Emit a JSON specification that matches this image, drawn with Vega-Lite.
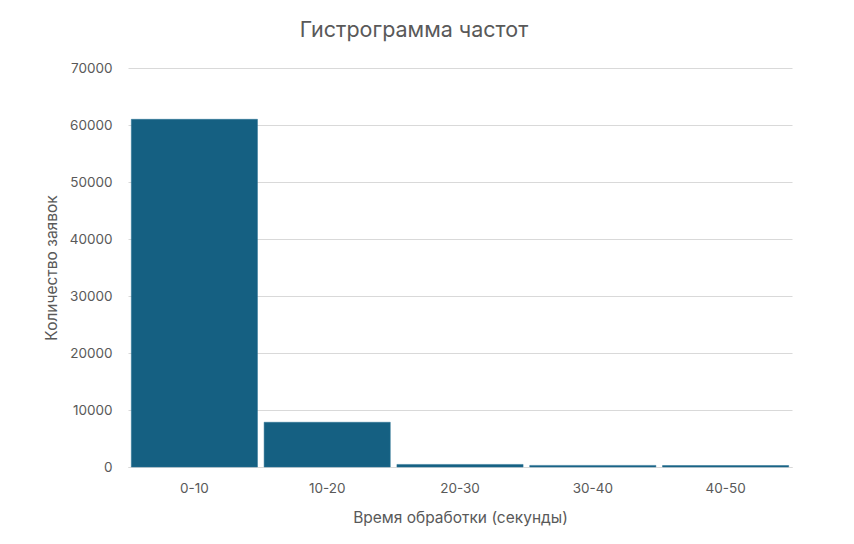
{
  "$schema": "https://vega.github.io/schema/vega-lite/v6.json",
  "autosize": "none",
  "width": 664,
  "height": 399,
  "padding": {"left": 128, "top": 68, "right": 62, "bottom": 77},
  "background": "white",
  "title": {
    "text": "Гистрограмма частот",
    "font": "Inter",
    "fontSize": 21.5,
    "fontWeight": "normal",
    "color": "#595959",
    "anchor": "middle",
    "dx": -46,
    "offset": 20
  },
  "data": {
    "values": [
      {"interval": "0-10", "count": 61000},
      {"interval": "10-20", "count": 7850},
      {"interval": "20-30", "count": 450},
      {"interval": "30-40", "count": 280},
      {"interval": "40-50", "count": 260}
    ]
  },
  "mark": {"type": "bar", "color": "#156082", "stroke": "#2a7294", "strokeWidth": 0.5},
  "encoding": {
    "x": {
      "field": "interval",
      "type": "nominal",
      "sort": null,
      "title": "Время обработки (секунды)",
      "scale": {"paddingInner": 0.05, "paddingOuter": 0.025},
      "axis": {
        "labelAngle": 0,
        "ticks": false,
        "domainColor": "#d9d9d9",
        "labelPadding": 14,
        "titlePadding": 16
      }
    },
    "y": {
      "field": "count",
      "type": "quantitative",
      "title": "Количество заявок",
      "scale": {"domain": [0, 70000]},
      "axis": {
        "values": [0, 10000, 20000, 30000, 40000, 50000, 60000, 70000],
        "format": "d",
        "domain": false,
        "ticks": false,
        "gridColor": "#d9d9d9",
        "labelPadding": 16,
        "titlePadding": 10
      }
    }
  },
  "config": {
    "view": {"stroke": null},
    "axis": {
      "labelFont": "Inter",
      "labelFontSize": 13.5,
      "labelColor": "#595959",
      "titleFont": "Inter",
      "titleFontSize": 15.5,
      "titleFontWeight": "normal",
      "titleColor": "#595959"
    }
  }
}
